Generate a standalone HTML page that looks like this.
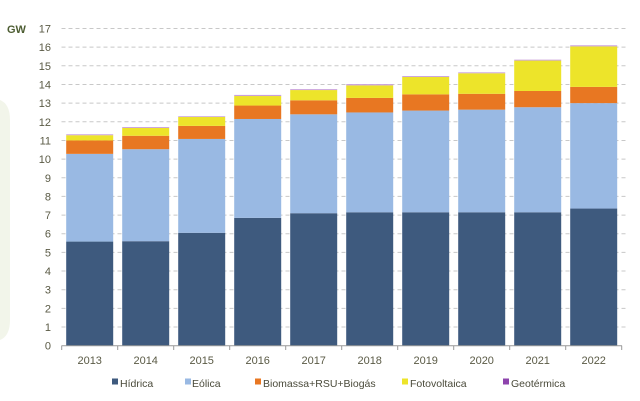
<!DOCTYPE html>
<html><head><meta charset="utf-8"><style>
html,body{margin:0;padding:0;background:#fff;}
svg{display:block;font-family:"Liberation Sans",sans-serif;}
</style></head><body>
<svg width="640" height="401" viewBox="0 0 640 401" xmlns="http://www.w3.org/2000/svg">
<path d="M0,100 Q10,104 10,120 L10,320 Q10,336 0,340 Z" fill="#f2f5ea"/>
<text x="7" y="33" font-size="11" font-weight="bold" fill="#4d5d32">GW</text>
<g id="grid" stroke="#c8c8c8" stroke-width="1" stroke-dasharray="4,3"></g>
<g id="ylab" font-size="11" fill="#5a5a45" text-anchor="end"></g>
<g id="bars"></g>
<line x1="61.5" y1="345.7" x2="622" y2="345.7" stroke="#999" stroke-width="1"/>
<g id="ticks" stroke="#999"></g>
<g id="xlab" font-size="11" fill="#5a5a45" text-anchor="middle"></g>
<g font-size="10.5" fill="#4a4a3a">
<rect x="112" y="378.5" width="6" height="6" fill="#3e5a7e"/><text x="120" y="387">Hídrica</text>
<rect x="185" y="378.5" width="6" height="6" fill="#99b9e3"/><text x="192" y="387">Eólica</text>
<rect x="255" y="378.5" width="6" height="6" fill="#e87722"/><text x="263" y="387">Biomassa+RSU+Biogás</text>
<rect x="402" y="378.5" width="6" height="6" fill="#ede42a"/><text x="410" y="387">Fotovoltaica</text>
<rect x="503" y="378.5" width="6" height="6" fill="#8e44ad"/><text x="511" y="387">Geotérmica</text>
</g>
<script>
var ns="http://www.w3.org/2000/svg";
function y(v){return 345.7-v*18.66;}
function el(p,t,a,txt){var e=document.createElementNS(ns,t);for(var k in a)e.setAttribute(k,a[k]);if(txt)e.textContent=txt;document.getElementById(p).appendChild(e);}
for(var i=0;i<=17;i++){ if(i>0) el("grid","line",{x1:61.5,x2:627,y1:y(i),y2:y(i)}); el("ylab","text",{x:51,y:y(i)+4},String(i));}
var d=[[5.58,10.28,11.0,11.28,11.33],[5.6,10.53,11.25,11.67,11.72],[6.05,11.08,11.78,12.26,12.3],[6.85,12.15,12.87,13.38,13.44],[7.1,12.4,13.15,13.7,13.75],[7.15,12.5,13.28,13.95,14.02],[7.15,12.6,13.47,14.4,14.45],[7.15,12.65,13.5,14.6,14.65],[7.15,12.78,13.65,15.28,15.33],[7.35,13.0,13.87,16.04,16.1]];
var c=["#3e5a7e","#99b9e3","#e87722","#ede42a","#c9a0dc"];
for(var j=0;j<10;j++){var x0=61.7+j*56;
 el("ticks","line",{x1:x0,x2:x0,y1:345.7,y2:350});
 el("xlab","text",{x:x0+28,y:364},String(2013+j));
 var prev=0;for(var s=0;s<5;s++){var v=d[j][s];el("bars","rect",{x:x0+4.5,width:47,y:y(v),height:y(prev)-y(v),fill:c[s]});prev=v;}
}
el("ticks","line",{x1:621.7,x2:621.7,y1:345.7,y2:350});
</script>
</svg>
</body></html>
